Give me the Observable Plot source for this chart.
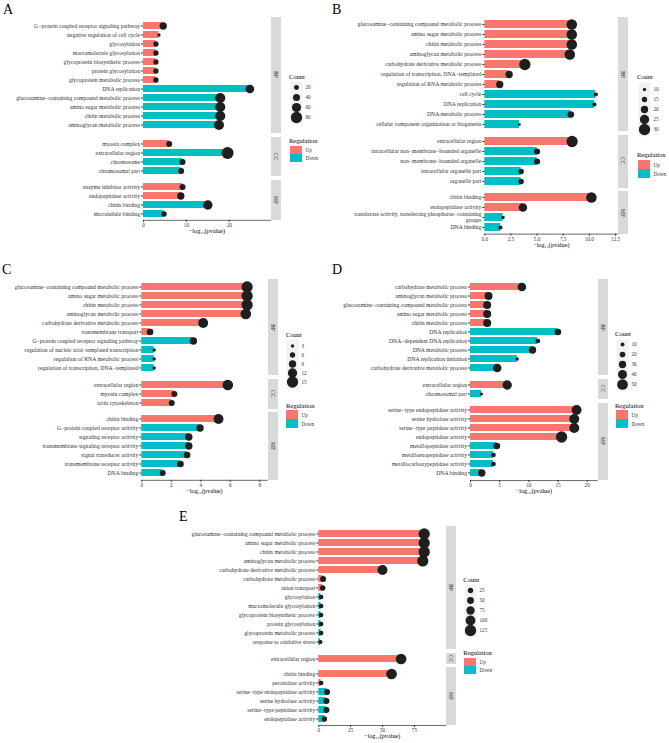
<!DOCTYPE html>
<html><head><meta charset="utf-8">
<script src="https://cdn.jsdelivr.net/npm/d3@7"></script>
<script src="https://cdn.jsdelivr.net/npm/@observablehq/plot@0.6"></script>
<style>
body{margin:0;background:#fff;}
#fig{position:relative;width:669px;height:743px;background:#fff;font-family:"Liberation Serif","Times New Roman",serif;overflow:hidden}
.strip{background:#D9D9D9;display:flex;align-items:center;justify-content:center;font-size:5.5px;color:#1a1a1a;writing-mode:vertical-rl}
.letter{font-size:14px;line-height:14px;color:#000}
.ltitle{font-size:6.5px;line-height:7px;color:#000;white-space:nowrap}
</style></head><body><div id="fig"></div>
<script>
const UP = "#F8766D", DOWN = "#00BFC4";
const REG_LEVELS = ["Up", "Down"];
const ONT_LEVELS = ["BP", "CC", "MF"];
const X_TITLE = "−log₁₀(pvalue)";

// ---------- Panel A ----------
const A_term = ["G−protein coupled receptor signaling pathway","negative regulation of cell cycle","glycosylation","macromolecule glycosylation","glycoprotein biosynthetic process","protein glycosylation","glycoprotein metabolic process","DNA replication","glucosamine−containing compound metabolic process","amino sugar metabolic process","chitin metabolic process","aminoglycan metabolic process","myosin complex","extracellular region","chromosome","chromosomal part","enzyme inhibitor activity","endopeptidase activity","chitin binding","microtubule binding"];
const A_ont = ["BP","BP","BP","BP","BP","BP","BP","BP","BP","BP","BP","BP","CC","CC","CC","CC","MF","MF","MF","MF"];
const A_logp = [4.6,3.6,2.9,2.9,2.9,2.9,2.9,24.8,17.9,17.9,17.9,17.6,6.0,19.6,9.1,8.8,9.1,8.7,15.0,4.8];
const A_count = [42,4,23,23,23,23,23,55,68,68,68,68,30,87,30,28,30,42,61,23];
const A_reg = ["Up","Up","Up","Up","Up","Up","Up","Down","Down","Down","Down","Down","Up","Down","Down","Down","Up","Up","Down","Down"];
const A_breaks = [20,40,60,80];
const A_ticks = [0,10,20];

// ---------- Panel B ----------
const B_term = ["glucosamine−containing compound metabolic process","amino sugar metabolic process","chitin metabolic process","aminoglycan metabolic process","carbohydrate derivative metabolic process","regulation of transcription, DNA−templated","regulation of RNA metabolic process","cell cycle","DNA replication","DNA metabolic process","cellular component organization or biogenesis","extracellular region","intracellular non−membrane−bounded organelle","non−membrane−bounded organelle","intracellular organelle part","organelle part","chitin binding","endopeptidase activity","transferase activity, transferring phosphorus−containing groups","DNA binding"];
const B_ont = ["BP","BP","BP","BP","BP","BP","BP","BP","BP","BP","BP","CC","CC","CC","CC","CC","MF","MF","MF","MF"];
const B_logp = [8.32,8.32,8.32,8.13,3.83,2.33,1.43,10.62,10.49,8.23,3.32,8.35,5.0,5.0,3.48,3.48,10.2,3.64,1.75,1.5];
const B_count = [28,28,28,28,30,20,20,12,12,18,8,30,17,17,15,15,28,23,10,12];
const B_reg = ["Up","Up","Up","Up","Up","Up","Up","Down","Down","Down","Down","Up","Down","Down","Down","Down","Up","Up","Down","Down"];
const B_breaks = [10,15,20,25,30];
const B_ticks = [0,2.5,5,7.5,10,12.5];

// ---------- Panel C ----------
const C_term = ["glucosamine−containing compound metabolic process","amino sugar metabolic process","chitin metabolic process","aminoglycan metabolic process","carbohydrate derivative metabolic process","transmembrane transport","G−protein coupled receptor signaling pathway","regulation of nucleic acid−templated transcription","regulation of RNA metabolic process","regulation of transcription, DNA−templated","extracellular region","myosin complex","actin cytoskeleton","chitin binding","G−protein coupled receptor activity","signaling receptor activity","transmembrane signaling receptor activity","signal transducer activity","transmembrane receptor activity","DNA binding"];
const C_ont = ["BP","BP","BP","BP","BP","BP","BP","BP","BP","BP","CC","CC","CC","MF","MF","MF","MF","MF","MF","MF"];
const C_logp = [7.14,7.14,7.14,7.05,4.16,0.56,3.5,0.84,0.84,0.84,5.83,2.21,2.03,5.2,3.95,3.19,3.19,3.07,2.62,1.42];
const C_count = [15,15,15,14,13,8,9,3,3,3,14,7,7,13,9,9,9,8,8,7];
const C_reg = ["Up","Up","Up","Up","Up","Up","Down","Down","Down","Down","Up","Up","Up","Up","Down","Down","Down","Down","Down","Down"];
const C_breaks = [3,6,9,12,15];
const C_ticks = [0,2,4,6,8];

// ---------- Panel D ----------
const D_term = ["carbohydrate metabolic process","aminoglycan metabolic process","glucosamine−containing compound metabolic process","amino sugar metabolic process","chitin metabolic process","DNA replication","DNA−dependent DNA replication","DNA metabolic process","DNA replication initiation","carbohydrate derivative metabolic process","extracellular region","chromosomal part","serine−type endopeptidase activity","serine hydrolase activity","serine−type peptidase activity","endopeptidase activity","metallopeptidase activity","metalloexopeptidase activity","metallocarboxypeptidase activity","DNA binding"];
const D_ont = ["BP","BP","BP","BP","BP","BP","BP","BP","BP","BP","CC","CC","MF","MF","MF","MF","MF","MF","MF","MF"];
const D_logp = [8.8,3.09,2.86,2.86,2.86,14.97,11.54,10.63,8.0,4.57,6.29,1.89,18.17,17.77,17.77,15.6,4.51,3.94,3.94,1.94];
const D_count = [38,34,34,34,34,26,14,30,6,38,42,4,46,46,46,54,26,14,14,30];
const D_reg = ["Up","Up","Up","Up","Up","Down","Down","Down","Down","Down","Up","Down","Up","Up","Up","Up","Down","Down","Down","Down"];
const D_breaks = [10,20,30,40,50];
const D_ticks = [0,5,10,15,20];

// ---------- Panel E ----------
const E_term = ["glucosamine−containing compound metabolic process","amino sugar metabolic process","chitin metabolic process","aminoglycan metabolic process","carbohydrate derivative metabolic process","carbohydrate metabolic process","anion transport","glycosylation","macromolecule glycosylation","glycoprotein biosynthetic process","protein glycosylation","glycoprotein metabolic process","response to oxidative stress","extracellular region","chitin binding","peroxidase activity","serine−type endopeptidase activity","serine hydrolase activity","serine−type peptidase activity","endopeptidase activity"];
const E_ont = ["BP","BP","BP","BP","BP","BP","BP","BP","BP","BP","BP","BP","BP","CC","MF","MF","MF","MF","MF","MF"];
const E_logp = [82.6,82.6,82.6,81.5,49.9,3.4,3.1,1.8,1.8,1.8,1.8,1.8,1.3,64.5,57,1.8,6.5,6.0,6.0,4.4];
const E_count = [125,125,125,123,103,36,25,14,14,14,14,14,5,114,114,14,36,36,36,25];
const E_reg = ["Up","Up","Up","Up","Up","Up","Up","Down","Down","Down","Down","Down","Down","Up","Up","Up","Down","Down","Down","Down"];
const E_breaks = [25,50,75,100,125];
const E_ticks = [0,25,50,75];

// ---------- layout (page positions only) ----------
const LAYOUT = {
  A:{letter:[3,5], left:0, x0:143, xr:270, top:17, step:9.48, gap:4, domain:[0,29.6], fmt:d=>d, rDomain:[3,80], rRange:[1.6,5.65],
     lg:{titleX:289, countY:76, keyX:290, keysTop:80.6, keyH:10.7, regY:140, swTop:146, swH:8}},
  B:{letter:[332,5], left:330, x0:484.3, xr:617.3, top:17.3, step:10.15, gap:3.8, domain:[0,12.72], fmt:d3.format(".1f"), rDomain:[10,30], rRange:[1.67,5.65],
     lg:{titleX:637, countY:76.7, keyX:638, keysTop:81.6, keyH:10.75, regY:154, swTop:159.5, swH:9}},
  C:{letter:[2,265], left:0, x0:141.3, xr:266.7, top:279.3, step:9.42, gap:3.2, domain:[0,8.5], fmt:d=>d, rDomain:[3,15], rRange:[1.67,5.65],
     lg:{titleX:286, countY:334, keyX:286, keysTop:339, keyH:9.92, regY:405, swTop:409.5, swH:9}},
  D:{letter:[332,265], left:330, x0:470, xr:596.7, top:279.3, step:9.4, gap:3.4, domain:[0,21.7], fmt:d=>d, rDomain:[10,50], rRange:[2,5.33],
     lg:{titleX:615, countY:333, keyX:615.7, keysTop:338.7, keyH:10, regY:405.7, swTop:410, swH:9}},
  E:{letter:[179,512], left:130, x0:318.3, xr:445, top:525.7, step:9.35, gap:3.5, domain:[0,99.3], fmt:d=>d, rDomain:[25,125], rRange:[2.67,5.67],
     lg:{titleX:463.3, countY:579, keyX:464, keysTop:584.1, keyH:10.35, regY:652.7, swTop:657.4, swH:8.6}}
};

const fig = document.getElementById("fig");
const FONT = "Liberation Serif, Times New Roman, serif";
function place(el, x, y){ el.style.position = "absolute"; el.style.left = x + "px"; el.style.top = y + "px"; fig.appendChild(el); return el; }
function div(cls, html){ const d = document.createElement("div"); d.className = cls; d.innerHTML = html; return d; }
function wrapLabel(s){ const n = 56; if (s.length <= n) return s; const i = s.lastIndexOf(" ", n); return s.slice(0, i) + "\n" + s.slice(i + 1); }
const baseStyle = {background:"transparent", overflow:"visible", fontFamily: FONT};

function panel(name, term, ont, logp, count, reg, breaks, ticks){
  const L = LAYOUT[name];
  const rows = term.map((t, i) => ({term:t, ont:ont[i], logp:logp[i], count:count[i], reg:reg[i]}));
  const rScale = {type:"linear", domain:L.rDomain, range:L.rRange};
  const colorScale = {domain:REG_LEVELS, range:[UP, DOWN]};
  place(div("letter", name), L.letter[0], L.letter[1] - 2.4);
  let y = L.top;
  ONT_LEVELS.forEach((g, gi) => {
    const sub = rows.filter(d => d.ont === g);
    const gh = (sub.length + 0.2) * L.step;
    const last = gi === ONT_LEVELS.length - 1;
    const mb = last ? 17 : 0;
    const marks = [
      Plot.barX(sub, {x:"logp", y:"term", fill:"reg"}),
      Plot.dot(sub, {x:"logp", y:"term", r:"count", fill:"#1f1f1f"}),
      Plot.axisY({tickSize:2, tickPadding:1.5, fontSize:5.7, color:"#333", tickFormat:wrapLabel, label:null})
    ];
    if (last) marks.push(
      Plot.frame({anchor:"bottom", stroke:"#444", strokeWidth:0.8}),
      Plot.axisX({ticks:ticks, tickFormat:L.fmt, tickSize:2, tickPadding:1, fontSize:5.3, color:"#333", label:null}),
      Plot.text([X_TITLE], {frameAnchor:"bottom", dy:12.6, fontSize:6.2, fill:"#000"})
    );
    const svg = Plot.plot({
      width: L.xr - L.left, height: gh + mb,
      marginLeft: L.x0 - L.left, marginRight: 0, marginTop: 0, marginBottom: mb,
      style: baseStyle,
      x: {domain: L.domain, axis: null},
      y: {domain: sub.map(d => d.term), paddingInner: 0.2, paddingOuter: 0.2, axis: null},
      color: colorScale,
      r: rScale,
      marks
    });
    place(svg, L.left, y);
    const s = div("strip", g);
    s.style.width = "10px"; s.style.height = gh + "px";
    place(s, L.xr + 1, y);
    y += gh + L.gap;
  });

  // Count legend
  const lg = L.lg;
  place(div("ltitle", "Count"), lg.titleX, lg.countY - 3.5);
  const keyW = 12, labW = 20;
  const sizeSvg = Plot.plot({
    width: keyW + labW, height: lg.keyH * breaks.length,
    marginLeft: 0, marginRight: labW, marginTop: 0, marginBottom: 0,
    style: baseStyle,
    x: {axis: null},
    y: {type: "band", domain: breaks, padding: 0, axis: null},
    r: rScale,
    marks: [
      Plot.frame({fill: "#F2F2F2", stroke: null}),
      Plot.dot(breaks, {y: d => d, r: d => d, fill: "#1f1f1f"}),
      Plot.axisY({anchor: "right", tickSize: 0, tickPadding: 3, fontSize: 5.2, color: "#333", label: null})
    ]
  });
  place(sizeSvg, lg.keyX, lg.keysTop);

  // Regulation legend
  place(div("ltitle", "Regulation"), lg.titleX, lg.regY - 3.5);
  const regSvg = Plot.plot({
    width: keyW + labW, height: lg.swH * 2,
    marginLeft: 0, marginRight: labW, marginTop: 0, marginBottom: 0,
    style: baseStyle,
    x: {axis: null},
    y: {type: "band", domain: REG_LEVELS, padding: 0, axis: null},
    color: colorScale,
    marks: [
      Plot.cell(REG_LEVELS, {y: d => d, fill: d => d}),
      Plot.axisY({anchor: "right", tickSize: 0, tickPadding: 3, fontSize: 5.2, color: "#333", label: null})
    ]
  });
  place(regSvg, lg.keyX, lg.swTop);
}

panel("A", A_term, A_ont, A_logp, A_count, A_reg, A_breaks, A_ticks);
panel("B", B_term, B_ont, B_logp, B_count, B_reg, B_breaks, B_ticks);
panel("C", C_term, C_ont, C_logp, C_count, C_reg, C_breaks, C_ticks);
panel("D", D_term, D_ont, D_logp, D_count, D_reg, D_breaks, D_ticks);
panel("E", E_term, E_ont, E_logp, E_count, E_reg, E_breaks, E_ticks);
</script></body></html>
